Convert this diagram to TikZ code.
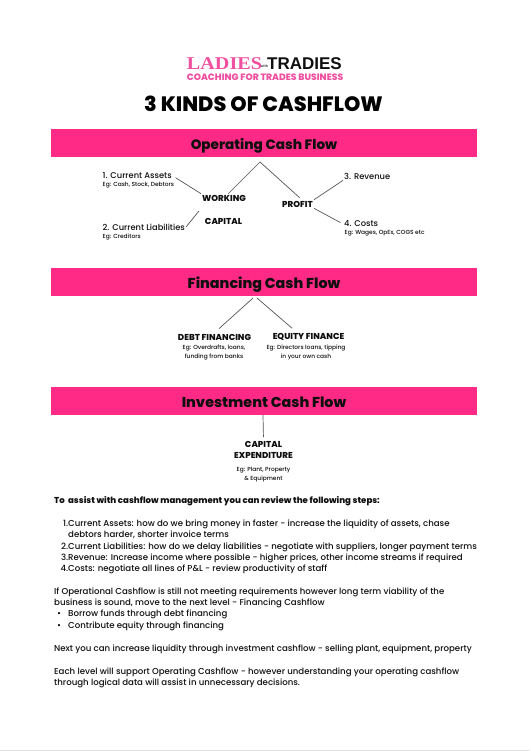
\documentclass[tikz,border=0pt]{standalone}
\usepackage{xcolor}
\usepackage{fontspec}
\usepackage{tikz}
\setmainfont{Poppins}[UprightFont=* Medium, BoldFont=* ExtraBold]
\newfontfamily\logoserif[FakeStretch=1.12]{Liberation Serif}
\newfontfamily\logosans{Liberation Sans}
\definecolor{BarPink}{RGB}{255,42,133}
\definecolor{LogoPink}{RGB}{240,80,160}
\definecolor{LinkGrey}{RGB}{85,85,85}
\definecolor{InkBlack}{RGB}{15,15,15}

\begin{document}
\begin{tikzpicture}[
    x=1pt,
    y=-1pt,
    bar/.style={
        rectangle,
        fill=BarPink,
        draw=none,
        inner sep=0pt,
        minimum width=426pt,
        minimum height=28pt,
        text height=13pt,
        text depth=0pt,
        text=InkBlack,
        font=\bfseries\fontsize{14.3}{17}\selectfont
    },
    head/.style={
        inner sep=1pt,
        text=InkBlack,
        align=center,
        font=\bfseries\fontsize{8.6}{11}\selectfont
    },
    item/.style={
        anchor=west,
        inner sep=1pt,
        text=InkBlack,
        font=\fontsize{8.3}{10}\selectfont
    },
    note/.style={
        inner sep=0pt,
        text=InkBlack,
        align=center,
        font=\fontsize{5.9}{8.3}\selectfont
    },
    body/.style={
        anchor=north west,
        inner sep=0pt,
        text=InkBlack,
        align=left,
        font=\fontsize{8.6}{11.35}\selectfont
    },
    link/.style={
        draw=LinkGrey,
        line width=0.7pt
    }
]
\useasboundingbox (0,0) rectangle (530,751);

\node[inner sep=0pt, text=LogoPink, font=\logoserif\bfseries\fontsize{18}{20}\selectfont] (ladies) at (224.5,64)
    {LADIES};

\node[inner sep=0pt, text=InkBlack, font=\logosans\bfseries\fontsize{17}{20}\selectfont] (tradies) at (304.5,64)
    {TRADIES};

\node[inner sep=0pt, text=InkBlack, font=\fontsize{3.4}{5}\selectfont] (with) at (264.5,66)
    {with};

\node[inner sep=0pt, text=LogoPink, font=\bfseries\fontsize{9.2}{10}\selectfont] (coaching) at (265,77.5)
    {COACHING FOR TRADES BUSINESS};

\node[inner sep=0pt, text=black, font=\bfseries\fontsize{20.8}{24}\selectfont] (title) at (263.5,104)
    {3 KINDS OF CASHFLOW};


\node[bar, font=\bfseries\fontsize{13.6}{17}\selectfont] (operating) at (264,143)
    {Operating Cash Flow};

\node[bar] (financing) at (264,282)
    {Financing Cash Flow};

\node[bar] (investment) at (264,401)
    {Investment Cash Flow};


\coordinate (opapex) at (260,162);
\coordinate (workingfoot) at (199,211);
\coordinate (finleft) at (253,298);
\coordinate (finright) at (257,298);
\coordinate (invtop) at (263,415);


\node[head] (working) at (224,198)
    {WORKING};

\node[head] (capital) at (223.5,221)
    {CAPITAL};

\node[head] (profit) at (297.5,204)
    {PROFIT};


\node[item] (assets) at (101.5,176)
    {1. Current Assets};
\node[note, anchor=west] (assetsnote) at (102.5,185.5)
    {Eg: Cash, Stock, Debtors};

\node[item] (liabilities) at (101.5,227)
    {2. Current Liabilities};
\node[note, anchor=west] (liabilitiesnote) at (102.5,237)
    {Eg: Creditors};

\node[item] (revenue) at (343,176)
    {3. Revenue};

\node[item] (costs) at (343,224)
    {4. Costs};
\node[note, anchor=west] (costsnote) at (344.5,233)
    {Eg: Wages, OpEx, COGS etc};


\node[head] (debt) at (214.5,337)
    {DEBT FINANCING};
\node[note] (debtnote) at (214,352.5)
    {Eg: Overdrafts, loans,\\funding from banks};

\node[head] (equity) at (308.5,337)
    {EQUITY FINANCE};
\node[note] (equitynote) at (306,352.5)
    {Eg: Directors loans, tipping\\in your own cash};


\node[head] (capex) at (263.5,450)
    {CAPITAL\\EXPENDITURE};
\node[note] (capexnote) at (263.5,474.5)
    {Eg: Plant, Property\\\& Equipment};


\draw[link] (opapex) -- (working);
\draw[link, shorten >=3pt] (opapex) -- (profit.45);

\draw[link, shorten <=3pt] (assets.east) -- (working.north west);
\draw[link] (workingfoot) -- (liabilities.east);

\draw[link] (profit.north east) -- (revenue.south west);
\draw[link, shorten >=3pt] (profit.south east) -- (costs.west);

\draw[link, shorten >=6pt] (finleft) -- (debt.north);
\draw[link, shorten >=6pt] (finright) -- (equity.158);

\draw[link, shorten >=3pt] (invtop) -- (capex.north);


\node[body, font=\bfseries\fontsize{8.6}{11.35}\selectfont] (intro) at (54,496)
    {To\ \ assist with cashflow management you can review the following steps:};

\node[body] (steps) at (68,519.5)
    {\llap{1.}Current Assets: how do we bring money in faster - increase the liquidity of assets, chase\\
     debtors harder, shorter invoice terms\\
     \llap{2.}Current Liabilities: how do we delay liabilities - negotiate with suppliers, longer payment terms\\
     \llap{3.}Revenue: Increase income where possible - higher prices, other income streams if required\\
     \llap{4.}Costs: negotiate all lines of P\&L - review productivity of staff};

\node[body] (operational) at (54,587.5)
    {If Operational Cashflow is still not meeting requirements however long term viability of the\\
     business is sound, move to the next level - Financing Cashflow};

\node[body] (bullets) at (68,610)
    {\llap{\textbullet\hspace{7pt}}Borrow funds through debt financing\\
     \llap{\textbullet\hspace{7pt}}Contribute equity through financing};

\node[body] (liquidity) at (54,644.5)
    {Next you can increase liquidity through investment cashflow - selling plant, equipment, property};

\node[body] (level) at (54,667.5)
    {Each level will support Operating Cashflow - however understanding your operating cashflow\\
     through logical data will assist in unnecessary decisions.};


\draw[draw=black!12, line width=1pt] (0,750.5) -- (530,750.5);

\end{tikzpicture}
\end{document}
